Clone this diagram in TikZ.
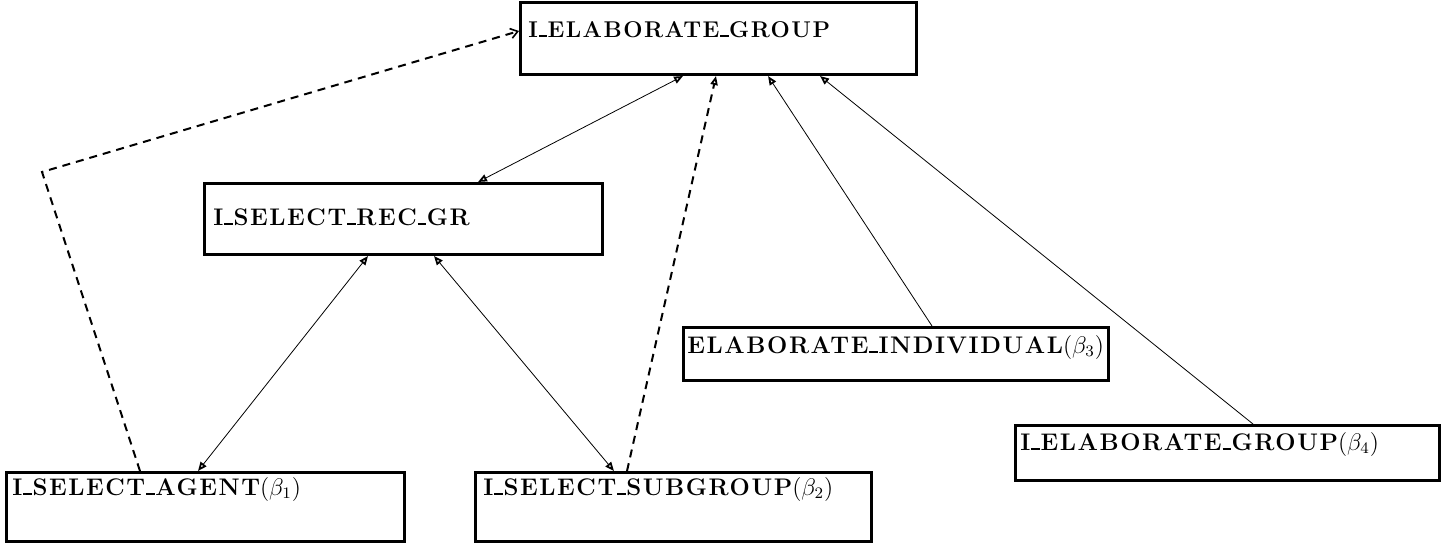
\documentclass[tikz,border=0pt]{standalone}
\usepackage{fontspec}
\setmainfont{Latin Modern Roman}[LetterSpace=6.5]
\usetikzlibrary{arrows.meta,calc}
\newcommand\usc{\kern.04em\rule{.36em}{1pt}\kern.02em}
\begin{document}
\begin{tikzpicture}[x=0.5pt,y=-0.5pt,
  box/.style={draw,line width=1.5pt,rectangle,inner sep=0pt,anchor=north west},
  lbl/.style={inner sep=0pt,anchor=base west,font=\fontsize{12}{14}\selectfont\bfseries},
  conn/.style={line width=0.4pt},
  dconn/.style={line width=1pt,dash pattern=on 4pt off 3pt},
  tri/.tip={Triangle[open,length=4.5pt,width=3.6pt,line width=0.9pt]},
  barb/.tip={Straight Barb[length=3.5pt,width=5pt,line width=0.8pt]}
]
\useasboundingbox (0,0) rectangle (1449,543);
% boxes
\node[box,minimum width=198pt,minimum height=36pt] (top) at (519,1) {};
\node[box,minimum width=199pt,minimum height=35.5pt] (rec) at (203,182) {};
\node[box,minimum width=199pt,minimum height=34.5pt] (agent) at (5,471) {};
\node[box,minimum width=198pt,minimum height=34.5pt] (sub) at (474,471) {};
\node[box,minimum width=212.5pt,minimum height=26.5pt] (ind) at (682,326) {};
\node[box,minimum width=212pt,minimum height=27.5pt] (grp) at (1014,424) {};
% labels
\node[lbl,font=\fontsize{11.4}{14}\selectfont\bfseries] (ttop) at ($(top.north west)+(9,36)$) {I\usc ELABORATE\usc GROUP};
\node[lbl] (trec) at ($(rec.north west)+(10,43)$) {I\usc SELECT\usc REC\usc GR};
\node[lbl] (tagent) at ($(agent.north west)+(7,24)$) {I\usc SELECT\usc AGENT$(\beta_1)$};
\node[lbl] (tsub) at ($(sub.north west)+(9,24)$) {I\usc SELECT\usc SUBGROUP$(\beta_2)$};
\node[lbl] (tind) at ($(ind.north west)+(5,27)$) {ELABORATE\usc INDIVIDUAL$(\beta_3)$};
\node[lbl] (tgrp) at ($(grp.north west)+(6,26)$) {I\usc ELABORATE\usc GROUP$(\beta_4)$};
% connectors
\coordinate (bend) at (42,172);
\draw[dconn,-barb] ($(agent.north west)+(135,0)$) -- (bend) -- ($(top.north west)+(0,30)$);
\draw[conn,tri-tri] ($(top.south west)+(164,0)$) -- ($(rec.north west)+(275,0)$);
\draw[dconn,-tri] ($(sub.north west)+(153,0)$) -- ($(top.south west)+(197,0)$);
\draw[conn,-tri] ($(ind.north west)+(250,0)$) -- ($(top.south west)+(249,0)$);
\draw[conn,-tri] ($(grp.north west)+(239,0)$) -- ($(top.south west)+(301,0)$);
\draw[conn,tri-tri] ($(rec.south west)+(165,0)$) -- ($(agent.north west)+(193,0)$);
\draw[conn,tri-tri] ($(rec.south west)+(231,0)$) -- ($(sub.north west)+(140,0)$);
\end{tikzpicture}
\end{document}
